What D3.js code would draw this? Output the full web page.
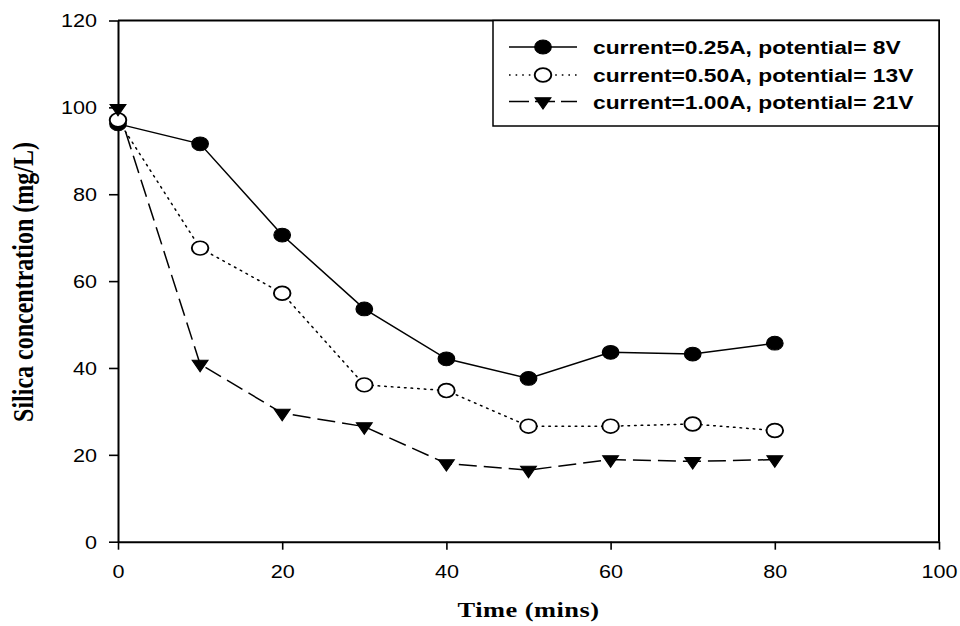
<!DOCTYPE html>
<html>
<head>
<meta charset="utf-8">
<script src="https://cdn.jsdelivr.net/npm/d3@7"></script>
<style>
  body { margin: 0; background: #fff; }
  svg { display: block; }
</style>
</head>
<body>
<svg width="960" height="626"></svg>
<script>
// data
const times = [0, 10, 20, 30, 40, 50, 60, 70, 80];
const s025 = [96.2, 91.6, 70.6, 53.6, 42.1, 37.6, 43.6, 43.2, 45.7];
const s050 = [97.1, 67.6, 57.2, 36.1, 34.8, 26.6, 26.6, 27.1, 25.6];
const s100 = [99.8, 40.9, 29.6, 26.5, 18.0, 16.5, 18.9, 18.5, 18.9];
const seriesNames = [
  "current=0.25A, potential= 8V",
  "current=0.50A, potential= 13V",
  "current=1.00A, potential= 21V"
];
const xTicks = [0, 20, 40, 60, 80, 100];
const yTicks = [0, 20, 40, 60, 80, 100, 120];

const stretch = 1.2; // picture is wider than tall
const svg = d3.select("svg");

const x = d3.scaleLinear().domain([0, 100]).range([118, 939]);
const y = d3.scaleLinear().domain([0, 120]).range([541.7, 20.5]);

const series = [
  {name: seriesNames[0], values: s025, dash: null, symbol: d3.symbolCircle, fill: "#000", rot: 0},
  {name: seriesNames[1], values: s050, dash: "1.6,5", symbol: d3.symbolCircle, fill: "#fff", rot: 0},
  {name: seriesNames[2], values: s100, dash: "18,7", symbol: d3.symbolTriangle, fill: "#000", rot: 180}
];

// frame (top and right)
svg.append("path")
  .attr("d", `M${x(0)},${y(120)}H${x(100)}V${y(0)}`)
  .attr("fill", "none")
  .attr("stroke", "#000")
  .attr("stroke-width", 2);

// axes
const xAxis = svg.append("g")
  .attr("transform", `translate(0,${y(0)})`)
  .call(d3.axisBottom(x).tickValues(xTicks).tickSize(8).tickSizeOuter(0));
const yAxis = svg.append("g")
  .attr("transform", `translate(${x(0)},0)`)
  .call(d3.axisLeft(y).tickValues(yTicks).tickSize(9).tickSizeOuter(0));

[xAxis, yAxis].forEach(g => {
  g.select(".domain").attr("stroke-width", 2);
  g.selectAll(".tick line").attr("stroke-width", 1.6);
  g.selectAll(".tick text")
    .attr("font-family", "'Liberation Sans', Arial, sans-serif")
    .attr("font-size", 18)
    .attr("fill", "#000");
});
xAxis.selectAll(".tick text")
  .attr("y", 36).attr("dy", 0)
  .attr("transform", `scale(${stretch},1)`);
yAxis.selectAll(".tick text")
  .attr("x", -21 / stretch).attr("dy", "0.35em")
  .attr("transform", `scale(${stretch},1)`);

// axis titles
svg.append("text")
  .attr("transform", `translate(${(x(0) + x(100)) / 2},617) scale(${stretch},1)`)
  .attr("text-anchor", "middle")
  .attr("font-family", "'Liberation Serif', 'Times New Roman', serif")
  .attr("font-weight", "bold")
  .attr("font-size", 22)
  .attr("letter-spacing", 0.4)
  .text("Time (mins)");

svg.append("text")
  .attr("transform", `translate(33,282) scale(${stretch},1) rotate(-90)`)
  .attr("text-anchor", "middle")
  .attr("font-family", "'Liberation Serif', 'Times New Roman', serif")
  .attr("font-weight", "bold")
  .attr("font-size", 24)
  .text("Silica concentration (mg/L)");

// lines and markers
const line = d3.line()
  .x((d, i) => x(times[i]))
  .y(d => y(d));

series.forEach(s => {
  svg.append("path")
    .attr("d", line(s.values))
    .attr("fill", "none")
    .attr("stroke", "#000")
    .attr("stroke-width", 1.5)
    .attr("stroke-dasharray", s.dash)
    .attr("stroke-linecap", s.dash && s.dash.startsWith("1.6") ? "round" : "butt");
});

function drawMarker(g, s, cx, cy) {
  const size = s.symbol === d3.symbolTriangle ? 75 : 150;
  g.append("path")
    .attr("d", d3.symbol().type(s.symbol).size(size)())
    .attr("transform", `translate(${cx},${cy}) scale(${stretch},1) rotate(${s.rot})`)
    .attr("fill", s.fill)
    .attr("stroke", "#000")
    .attr("stroke-width", s.fill === "#fff" ? 1.6 : 1);
}

series.forEach(s => {
  const g = svg.append("g");
  s.values.forEach((v, i) => drawMarker(g, s, x(times[i]), y(v)));
});

// legend
const legend = svg.append("g");
legend.append("rect")
  .attr("x", 493).attr("y", y(120))
  .attr("width", x(100) - 493).attr("height", 126 - y(120))
  .attr("fill", "#fff")
  .attr("stroke", "#000")
  .attr("stroke-width", 1.5);

const rowY = [47, 75, 101.5];
series.forEach((s, i) => {
  legend.append("line")
    .attr("x1", 509).attr("x2", 577)
    .attr("y1", rowY[i]).attr("y2", rowY[i])
    .attr("stroke", "#000")
    .attr("stroke-width", 1.5)
    .attr("stroke-dasharray", s.dash === "18,7" ? "20,6" : s.dash);
  drawMarker(legend, s, 543, rowY[i]);
  legend.append("text")
    .attr("transform", `translate(593,${rowY[i] + 7}) scale(${stretch},1)`)
    .attr("font-family", "'Liberation Sans', Arial, sans-serif")
    .attr("font-weight", "bold")
    .attr("font-size", 19)
    .text(s.name);
});
</script>
</body>
</html>
